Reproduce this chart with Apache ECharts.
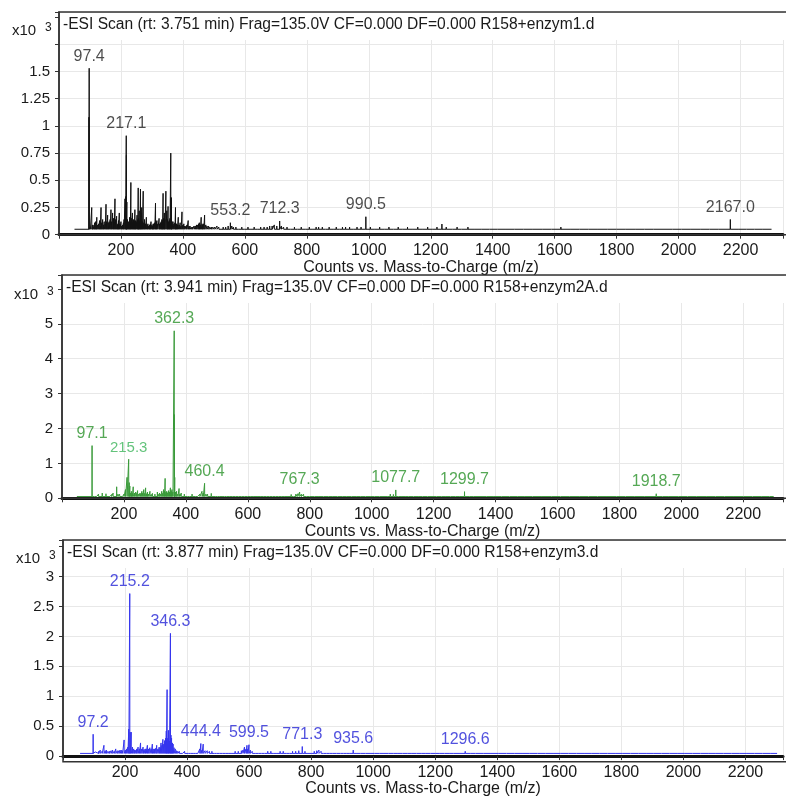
<!DOCTYPE html>
<html><head><meta charset="utf-8">
<script src="https://cdn.jsdelivr.net/npm/echarts@6/dist/echarts.min.js"></script>
<style>html,body{margin:0;padding:0;background:#fff}#c{width:786px;height:798px}</style>
</head><body><div id="c"></div>
<script>
// ---------- data ----------
const panelTitles = [
  "-ESI Scan (rt: 3.751 min) Frag=135.0V CF=0.000 DF=0.000 R158+enzym1.d",
  "-ESI Scan (rt: 3.941 min) Frag=135.0V CF=0.000 DF=0.000 R158+enzym2A.d",
  "-ESI Scan (rt: 3.877 min) Frag=135.0V CF=0.000 DF=0.000 R158+enzym3.d"
];
const xAxisTitle = "Counts vs. Mass-to-Charge (m/z)";
const xTickValues = [200,400,600,800,1000,1200,1400,1600,1800,2000,2200];
const y1Ticks = [0,0.25,0.5,0.75,1,1.25,1.5];
const y2Ticks = [0,1,2,3,4,5];
const y3Ticks = [0,0.5,1,1.5,2,2.5,3];

// intensities in x10^3 counts
const p1Baseline = 0.05;
const p1Peaks = [
 [96.6,1.08],[97.4,1.53],[101,0.07],[105.7,0.25],[108,0.09],[110,0.07],[113,0.09],[115,0.11],[118,0.12],[120,0.08],
 [122,0.16],[125,0.09],[128,0.10],[131,0.13],[133,0.08],[135.7,0.25],[138,0.11],[141,0.14],[143,0.09],[146,0.12],
 [149,0.10],[151.8,0.28],[154,0.12],[157,0.18],[159,0.11],[162,0.12],[165,0.14],[167.8,0.23],[170,0.12],[173,0.20],
 [176,0.15],[178,0.12],[180.7,0.33],[183,0.14],[186,0.17],[188,0.09],[190,0.10],[192,0.13],[194.6,0.20],[197,0.10],
 [200,0.12],[202,0.08],[205,0.09],[208,0.11],[210,0.14],[213,0.33],[215,0.35],[217.1,0.91],[217.6,0.73],[219,0.30],
 [221,0.14],[224,0.12],[226,0.10],[228,0.16],[230,0.12],[232,0.48],[234,0.15],[237,0.20],[239,0.11],[241,0.14],
 [243,0.12],[245,0.23],[247,0.13],[249,0.12],[252,0.18],[254,0.14],[255.7,0.43],[257,0.15],[259,0.22],[261,0.13],
 [263,0.42],[265,0.14],[267,0.25],[269,0.12],[271.8,0.40],[274,0.11],[276,0.14],[279,0.10],[282,0.16],[285,0.09],
 [287,0.10],[290,0.08],[292,0.09],[295,0.10],[297,0.12],[300,0.09],[302,0.08],[304,0.10],[306,0.10],[309,0.11],
 [311.5,0.29],[314,0.12],[316,0.13],[319,0.10],[323,0.15],[325,0.10],[328,0.11],[330,0.12],[332,0.14],[334,0.13],
 [336,0.38],[338,0.15],[340,0.20],[342,0.14],[345,0.40],[348,0.22],[350,0.14],[352,0.26],[354,0.12],[356,0.13],
 [358,0.15],[360.8,0.75],[361.6,0.34],[363,0.34],[365,0.12],[368,0.12],[371,0.10],[374,0.11],[376,0.25],[378,0.10],
 [380,0.10],[382,0.09],[385,0.16],[388,0.09],[391,0.11],[394,0.08],[397,0.21],[400,0.09],[403,0.10],[406,0.08],
 [410,0.08],[413,0.09],[417,0.13],[420,0.08],[423,0.08],[427,0.07],[431,0.07],[436,0.08],[440,0.08],[444,0.09],
 [448,0.09],[451,0.10],[453,0.11],[456,0.09],[459,0.16],[462,0.10],[464,0.09],[467,0.10],[470,0.18],[474,0.09],
 [478,0.08],[483,0.08],[487,0.07],[492,0.07],[497,0.07],[503,0.07],[510,0.08],[516,0.07],[522,0.06],[530,0.07],
 [538,0.07],[546,0.08],[553.2,0.11],[558,0.08],[563,0.07],[571,0.07],[579,0.06],[590,0.07],[600,0.06],[610,0.07],
 [620,0.06],[630,0.07],[640,0.06],[651,0.07],[662,0.07],[672,0.07],[680,0.08],[688,0.08],[695,0.09],[703,0.08],
 [712.3,0.126],[718,0.08],[725,0.07],[736,0.07],[748,0.06],[760,0.07],[770,0.06],[782,0.07],[795,0.06],[808,0.07],
 [820,0.06],[830,0.07],[838,0.07],[850,0.07],[860,0.06],[872,0.07],[885,0.06],[895,0.07],[905,0.06],[915,0.07],
 [925,0.07],[938,0.07],[950,0.06],[962,0.07],[975,0.07],[990.5,0.165],[1005,0.07],[1020,0.06],[1035,0.07],[1050,0.06],
 [1065,0.07],[1080,0.06],[1095,0.07],[1110,0.06],[1125,0.07],[1140,0.06],[1158,0.07],[1175,0.06],[1190,0.07],
 [1205,0.06],[1220,0.07],[1236,0.098],[1250,0.07],[1270,0.06],[1285,0.07],[1300,0.06],[1320,0.07],[1340,0.06],
 [1365,0.06],[1390,0.06],[1415,0.06],[1440,0.06],[1470,0.06],[1500,0.06],[1530,0.06],[1560,0.06],[1590,0.06],
 [1620,0.07],[1650,0.06],[1680,0.06],[1710,0.06],[1740,0.06],[1770,0.06],[1800,0.06],[1830,0.06],[1860,0.06],
 [1890,0.06],[1920,0.06],[1950,0.06],[1980,0.06],[2010,0.06],[2040,0.06],[2070,0.06],[2100,0.06],[2130,0.06],
 [2167.0,0.14],[2195,0.06],[2220,0.06],[2245,0.06],[2270,0.06]
];
const p1Labels = [97.4,217.1,553.2,712.3,990.5,2167.0];

const p2Baseline = 0.05;
const p2Peaks = [
 [97.1,1.51],[105,0.1],[112,0.08],[118,0.12],[124,0.09],[130,0.15],[136,0.1],[142,0.13],[148,0.09],[155,0.1],
 [160,0.11],[165,0.15],[170,0.1],[176.5,0.33],[181,0.12],[186,0.12],[191,0.09],[196,0.1],[200,0.12],[205,0.25],
 [210,0.6],[215.3,1.12],[217,0.45],[219,0.35],[222,0.15],[224,0.2],[227,0.14],[230,0.33],[234,0.15],[238,0.18],
 [241,0.14],[244,0.22],[248,0.12],[252,0.15],[255,0.13],[258,0.2],[261,0.15],[264,0.25],[267,0.14],[270,0.3],
 [273,0.13],[276,0.18],[280,0.12],[284,0.2],[288,0.11],[292,0.14],[296,0.1],[300,0.12],[304,0.1],[308,0.18],
 [312,0.11],[315,0.15],[319,0.12],[322,0.2],[325,0.14],[328,0.25],[331,0.2],[333,0.57],[336,0.18],[338,0.2],
 [341,0.16],[344,0.22],[347,0.18],[350,0.3],[353,0.2],[355,0.25],[358,0.18],[362.3,4.8],[362.8,2.4],[364,0.6],
 [367,0.18],[370,0.2],[374,0.12],[378,0.28],[381,0.12],[385,0.15],[390,0.1],[395,0.12],[400,0.1],[405,0.1],
 [412,0.09],[420,0.12],[426,0.09],[432,0.1],[438,0.09],[445,0.12],[452,0.2],[456,0.15],[460.4,0.43],[465,0.12],
 [470,0.12],[476,0.1],[482,0.14],[488,0.09],[495,0.1],[502,0.09],[510,0.1],[517,0.08],[525,0.09],[532,0.08],
 [540,0.1],[550,0.08],[560,0.09],[570,0.08],[580,0.1],[590,0.08],[600,0.1],[610,0.08],[620,0.09],[630,0.08],
 [640,0.08],[650,0.08],[660,0.09],[670,0.08],[680,0.09],[690,0.09],[700,0.1],[710,0.09],[720,0.1],[730,0.1],
 [740,0.11],[748,0.1],[755,0.12],[761,0.13],[767.3,0.18],[773,0.12],[780,0.12],[790,0.09],[800,0.09],[815,0.08],
 [830,0.08],[845,0.08],[860,0.08],[875,0.08],[890,0.08],[905,0.08],[920,0.08],[935,0.08],[950,0.09],[965,0.08],
 [980,0.08],[995,0.08],[1010,0.08],[1025,0.09],[1040,0.1],[1050,0.1],[1060,0.12],[1070,0.11],[1077.7,0.24],[1086,0.1],
 [1095,0.1],[1108,0.09],[1120,0.08],[1135,0.08],[1150,0.08],[1165,0.08],[1180,0.08],[1195,0.08],[1210,0.07],
 [1225,0.08],[1240,0.08],[1255,0.08],[1270,0.08],[1285,0.09],[1299.7,0.19],[1315,0.08],[1330,0.07],[1350,0.07],
 [1370,0.07],[1395,0.07],[1420,0.07],[1445,0.07],[1470,0.07],[1495,0.07],[1520,0.07],[1550,0.07],[1580,0.07],
 [1610,0.07],[1640,0.07],[1670,0.07],[1700,0.07],[1730,0.07],[1760,0.07],[1790,0.07],[1820,0.07],[1850,0.07],
 [1880,0.07],[1918.7,0.13],[1940,0.07],[1960,0.07],[1990,0.07],[2020,0.07],[2050,0.07],[2080,0.07],[2110,0.07],
 [2140,0.07],[2170,0.07],[2200,0.07],[2230,0.07],[2260,0.07],[2285,0.07]
];
const p2Labels = [97.1,215.3,362.3,460.4,767.3,1077.7,1299.7,1918.7];

const p3Baseline = 0.045;
const p3Peaks = [
 [97.2,0.365],[104,0.07],[110,0.06],[115,0.08],[120,0.1],[126,0.08],[132,0.18],[136,0.09],[140,0.1],[145,0.08],
 [150,0.08],[155,0.09],[160,0.1],[165,0.08],[170,0.12],[175,0.09],[180,0.09],[184,0.1],[188,0.1],[192,0.09],
 [197,0.27],[201,0.1],[205,0.12],[209,0.15],[212,0.45],[215.2,2.715],[216.5,0.4],[220,0.4],[224,0.15],[228,0.12],
 [231,0.1],[235,0.1],[238,0.12],[242,0.15],[246,0.12],[250,0.22],[254,0.12],[258,0.15],[261,0.11],[265,0.12],
 [268,0.12],[272,0.18],[276,0.12],[280,0.14],[284,0.12],[288,0.2],[291,0.12],[295,0.12],[299,0.13],[302,0.18],
 [306,0.12],[310,0.15],[313,0.14],[316,0.22],[319,0.18],[322,0.28],[325,0.2],[328,0.26],[331,0.3],[333,0.42],
 [335.6,1.11],[338,0.3],[340,0.43],[343,0.25],[346.3,2.05],[348,0.35],[350,0.3],[353,0.22],[355,0.2],[358,0.14],
 [362,0.12],[366,0.09],[370,0.08],[375,0.08],[380,0.07],[386,0.07],[392,0.08],[398,0.07],[405,0.06],[412,0.07],
 [420,0.06],[428,0.07],[435,0.07],[441,0.12],[444.4,0.21],[448,0.1],[452,0.2],[458,0.09],[465,0.09],[472,0.08],
 [480,0.08],[488,0.07],[495,0.07],[505,0.07],[515,0.06],[525,0.07],[535,0.07],[545,0.07],[555,0.08],[565,0.08],
 [575,0.09],[580,0.1],[585,0.15],[590,0.12],[593,0.18],[596,0.12],[599.5,0.19],[604,0.1],[610,0.08],[620,0.07],
 [630,0.07],[640,0.07],[650,0.07],[660,0.08],[670,0.08],[680,0.07],[690,0.07],[700,0.08],[710,0.08],[720,0.07],
 [730,0.07],[740,0.08],[750,0.08],[760,0.09],[771.3,0.16],[780,0.08],[790,0.07],[800,0.07],[810,0.08],[818,0.09],
 [825,0.1],[832,0.08],[840,0.07],[850,0.07],[860,0.07],[870,0.07],[882,0.06],[895,0.06],[905,0.06],[915,0.06],
 [925,0.07],[935.6,0.1],[945,0.06],[960,0.06],[975,0.06],[990,0.06],[1005,0.06],[1020,0.06],[1035,0.06],[1050,0.06],
 [1065,0.06],[1080,0.06],[1095,0.06],[1110,0.06],[1125,0.06],[1140,0.06],[1155,0.06],[1170,0.06],[1185,0.06],
 [1200,0.06],[1215,0.06],[1230,0.06],[1245,0.06],[1260,0.06],[1280,0.06],[1296.6,0.08],[1315,0.06],[1330,0.06],
 [1355,0.055],[1380,0.055],[1405,0.055],[1430,0.055],[1455,0.055],[1480,0.055],[1505,0.055],[1530,0.055],
 [1555,0.055],[1580,0.055],[1605,0.055],[1630,0.055],[1655,0.055],[1680,0.055],[1705,0.055],[1730,0.055],
 [1755,0.055],[1780,0.055],[1805,0.055],[1830,0.055],[1855,0.055],[1880,0.055],[1905,0.055],[1930,0.055],
 [1955,0.055],[1980,0.055],[2005,0.055],[2030,0.055],[2055,0.055],[2080,0.055],[2105,0.055],[2130,0.055],
 [2155,0.055],[2180,0.055],[2205,0.055],[2230,0.055],[2255,0.055],[2280,0.055]
];
const p3Labels = [97.2,215.2,346.3,444.4,599.5,771.3,935.6,1296.6];

// ---------- layout / style ----------
const W = 786;
const panels = [
  {left:59, top:12,  bottom:234.7, xmax:2337, ymax:2.047, yint:0.25, peaks:p1Peaks, base:p1Baseline, labels:p1Labels,
   line:'#111111', lab:'#1e1e1e', x10:[12,31], mzStart:50, mzEnd:2300},
  {left:62, top:275, bottom:498.3, xmax:2328, ymax:6.40, yint:1, peaks:p2Peaks, base:p2Baseline, labels:p2Labels,
   line:'#3a9a3a', lab:'#2a922a', x10:[14,295], mzStart:48, mzEnd:2298},
  {left:63, top:540, bottom:761.7, xmax:2321, ymax:3.61, yint:0.5, peaks:p3Peaks, base:p3Baseline, labels:p3Labels,
   line:'#3434ee', lab:'#2525d6', x10:[16,559], mzStart:55, mzEnd:2302}
];
const FONT = '"Liberation Sans", Arial, sans-serif';

function spectrum(peaks, base, s, e) {
  const sorted = peaks.slice().sort((a,b)=>a[0]-b[0]);
  const pts = [[s, base]];
  sorted.forEach(p => { pts.push([p[0]-0.3, base], [p[0], p[1]], [p[0]+0.3, base]); });
  pts.push([e, base]);
  return pts;
}

const grids=[], xAxes=[], yAxes=[], series=[], graphics=[];
panels.forEach((P,i) => {
  const h = P.bottom - P.top;
  grids.push({left:P.left, top:P.top, width:W-P.left, height:h, containLabel:false});
  xAxes.push({
    gridIndex:i, type:'value', min:0, max:P.xmax, interval:200,
    name:xAxisTitle, nameLocation:'middle', nameGap:21,
    nameTextStyle:{fontFamily:FONT, fontSize:16, color:'#1a1a1a'},
    axisLine:{show:true, onZero:false, lineStyle:{color:'#111', width:3}},
    axisTick:{show:true, length:4, lineStyle:{color:'#333'}},
    axisLabel:{fontFamily:FONT, fontSize:16, color:'#1a1a1a', margin:8,
      formatter:v => xTickValues.indexOf(Math.round(v))>=0 && Math.abs(v-Math.round(v))<1e-6 ? String(Math.round(v)) : ''},
    splitLine:{show:true, lineStyle:{color:'#e8e8e8', width:1}}
  });
  const yt = [y1Ticks,y2Ticks,y3Ticks][i];
  yAxes.push({
    gridIndex:i, type:'value', min:0, max:P.ymax, interval:P.yint,
    axisLine:{show:true, lineStyle:{color:'#333', width:1.5}},
    axisTick:{show:true, length:4, lineStyle:{color:'#333'}},
    axisLabel:{fontFamily:FONT, fontSize:15, color:'#1a1a1a', margin:9,
      formatter:v => { const r = Math.round(v*100)/100; return yt.indexOf(r)>=0 && Math.abs(v-r)<1e-6 ? String(r) : ''; }},
    splitLine:{show:true, lineStyle:{color:'#e8e8e8', width:1}}
  });
  series.push({
    type:'line', xAxisIndex:i, yAxisIndex:i, data:spectrum(P.peaks, P.base, P.mzStart, P.mzEnd),
    showSymbol:false, symbol:'none', lineStyle:{color:P.line, width:1}, animation:false, z:3, silent:true
  });
  series.push({
    type:'scatter', xAxisIndex:i, yAxisIndex:i, symbolSize:0, animation:false, silent:true, z:5,
    data: P.labels.map(mz => {
      const pk = P.peaks.find(p => p[0]===mz);
      const item = {value:[mz, pk ? pk[1] : P.base], name:mz.toFixed(1)};
      if (i===1 && mz===215.3) item.label = {color:'#3cb45a', fontSize:15};
      return item;
    }),
    label:{show:true, position:'top', distance:4, formatter:p => p.name,
      fontFamily:FONT, fontSize:16, color:P.lab}
  });
  // title cover box, frame, titles
  graphics.push({type:'rect', z:100, shape:{x:P.left+1, y:P.top+1, width:W, height:27}, style:{fill:'#fff'}});
  graphics.push({type:'rect', z:101, shape:{x:P.left, y:P.top, width:W+10, height:h}, style:{fill:null, stroke:'#333', lineWidth:1.5}});
  graphics.push({type:'text', z:102, x:P.left+4, y:P.top+13, style:{text:panelTitles[i], font:'15.6px '+FONT, fill:'#1a1a1a', verticalAlign:'middle', textVerticalAlign:'middle'}});
  graphics.push({type:'text', z:102, x:P.x10[0], y:P.x10[1], style:{text:'x10', font:'15px '+FONT, fill:'#1a1a1a', verticalAlign:'middle', textVerticalAlign:'middle'}});
  graphics.push({type:'text', z:102, x:P.x10[0]+33, y:P.x10[1]-3, style:{text:'3', font:'12px '+FONT, fill:'#1a1a1a', verticalAlign:'middle', textVerticalAlign:'middle'}});
});

const chart = echarts.init(document.getElementById('c'), null, {renderer:'canvas'});
chart.setOption({
  animation:false, backgroundColor:'#fff',
  grid:grids, xAxis:xAxes, yAxis:yAxes, series:series, graphic:{elements:graphics}
});
</script></body></html>
